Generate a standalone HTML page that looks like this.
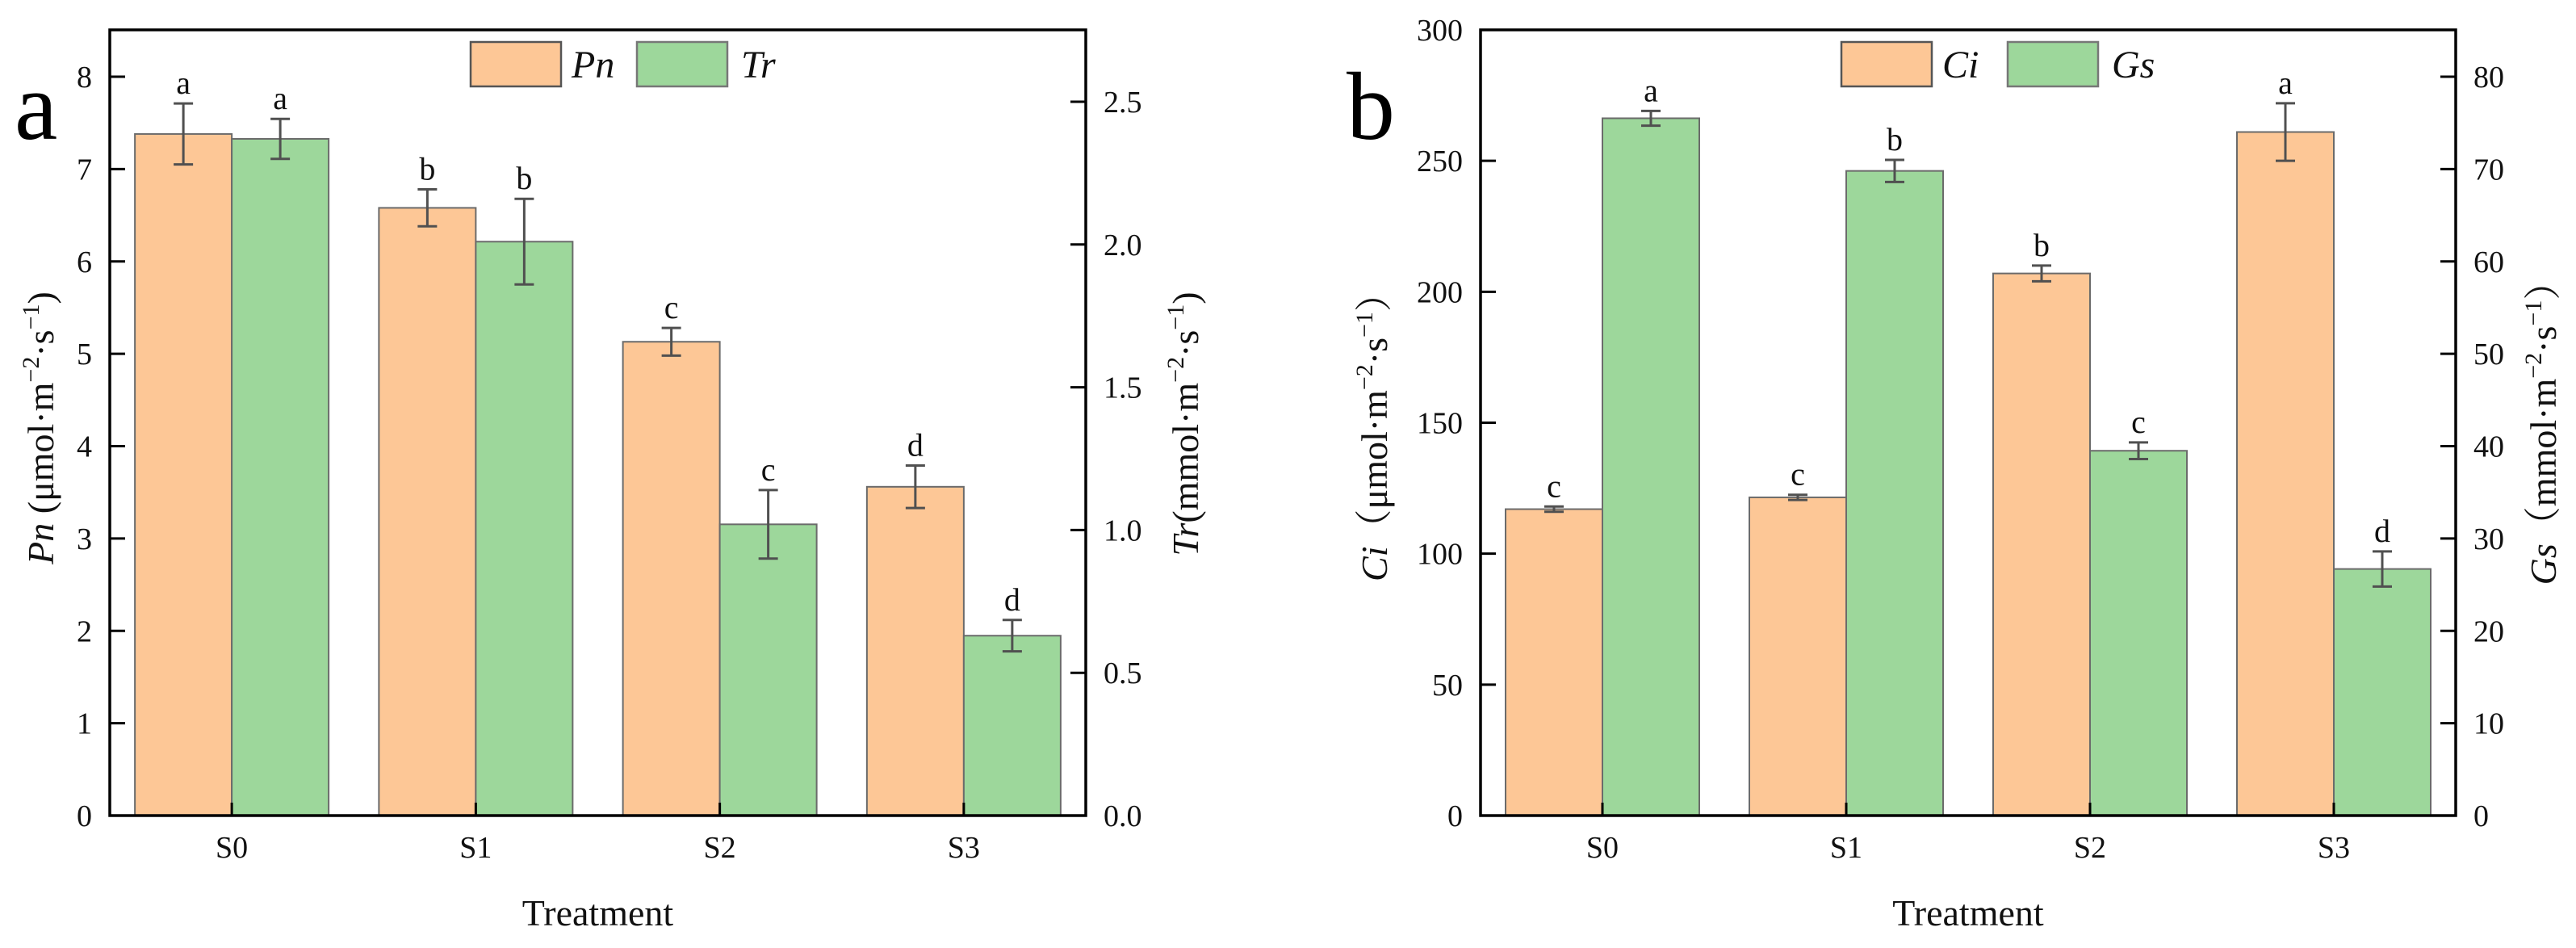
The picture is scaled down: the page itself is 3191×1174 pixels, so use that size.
<!DOCTYPE html>
<html><head><meta charset="utf-8">
<style>
html,body{margin:0;padding:0;background:#fff;}
svg{display:block;font-family:"Liberation Serif","Noto Serif CJK SC",serif;}
</style></head>
<body>
<svg id="fig" width="3191" height="1174" viewBox="0 0 3191 1174" xmlns="http://www.w3.org/2000/svg"></svg>
<script>
const categories = ["S0","S1","S2","S3"];
const pnValues = [7.38, 6.58, 5.13, 3.56];
const pnErrors = [0.33, 0.20, 0.15, 0.23];
const pnLetters = ["a","b","c","d"];
const trValues = [2.37, 2.01, 1.02, 0.63];
const trErrors = [0.07, 0.15, 0.12, 0.055];
const trLetters = ["a","b","c","d"];
const ciValues = [117, 121.5, 207, 261];
const ciErrors = [1, 1, 3, 11];
const ciLetters = ["c","c","b","a"];
const gsValues = [75.5, 69.8, 39.5, 26.7];
const gsErrors = [0.8, 1.2, 0.9, 1.9];
const gsLetters = ["a","b","c","d"];
const pnTicks = [0,1,2,3,4,5,6,7,8];
const trTicks = ["0.0","0.5","1.0","1.5","2.0","2.5"];
const ciTicks = [0,50,100,150,200,250,300];
const gsTicks = [0,10,20,30,40,50,60,70,80];

const NS = "http://www.w3.org/2000/svg";
const svg = document.getElementById("fig");
function mk(tag, attrs, parent, text){
  const e = document.createElementNS(NS, tag);
  for (const k in attrs) e.setAttribute(k, attrs[k]);
  if (text !== undefined) e.textContent = text;
  (parent || svg).appendChild(e);
  return e;
}
const Y0 = 1010, TOP = 37;
const ORANGE = "#FDC796", GREEN = "#9DD79B";

function panel(cfg){
  const g = mk("g", {});
  
  
  const L = cfg.left, R = cfg.right, step = (R - L) / categories.length;
  const xc = i => L + (i + 0.5) * step;
  const yl = v => Y0 - (v / cfg.lMax) * (Y0 - TOP);
  const yr = v => Y0 - (v / cfg.rMax) * (Y0 - TOP);
  const BW = 120;
  // bars
  const series = [
    {vals: cfg.lVals, errs: cfg.lErrs, lets: cfg.lLets, y: yl, color: ORANGE, off: -BW, key: cfg.lKey},
    {vals: cfg.rVals, errs: cfg.rErrs, lets: cfg.rLets, y: yr, color: GREEN, off: 0, key: cfg.rKey}
  ];
  series.forEach(s => {
    s.vals.forEach((v, i) => {
      const x = xc(i) + s.off, yt = s.y(v);
      const b = mk("rect", {x: x, y: yt, width: BW, height: Y0 - yt, fill: s.color, stroke: "#6b6b6b", "stroke-width": 2}, g);
      
      
      const cx = x + BW / 2, ya = s.y(v + s.errs[i]), yb = s.y(v - s.errs[i]);
      const eb = mk("path", {d: `M${cx},${ya}V${yb}M${cx-12},${ya}H${cx+12}M${cx-12},${yb}H${cx+12}`, stroke: "#505050", "stroke-width": 3, fill: "none"}, g);
      
      
      const t = mk("text", {x: cx, y: ya - 12, "font-size": 40, "text-anchor": "middle", fill: "#111"}, g, s.lets[i]);
      
      
    });
  });
  // frame
  const fr = mk("rect", {x: L, y: TOP, width: R - L, height: Y0 - TOP, fill: "none", stroke: "#000", "stroke-width": 3.5}, g);
  
  
  // left ticks
  cfg.lTicks.forEach(t => {
    const y = yl(+t);
    if (y > TOP + 3 && y < Y0 - 3) mk("line", {x1: L, x2: L + 19, y1: y, y2: y, stroke: "#000", "stroke-width": 3}, g);
    const tl = mk("text", {x: L - 22, y: y + 13, "font-size": 38, "text-anchor": "end", fill: "#111"}, g, t);
    
    
  });
  cfg.rTicks.forEach(t => {
    const y = yr(+t);
    if (y > TOP + 3 && y < Y0 - 3) mk("line", {x1: R, x2: R - 19, y1: y, y2: y, stroke: "#000", "stroke-width": 3}, g);
    const tl = mk("text", {x: R + 22, y: y + 13, "font-size": 38, "text-anchor": "start", fill: "#111"}, g, t);
    
    
  });
  categories.forEach((c, i) => {
    mk("line", {x1: xc(i), x2: xc(i), y1: Y0, y2: Y0 - 16, stroke: "#000", "stroke-width": 3}, g);
    const cl = mk("text", {x: xc(i), y: 1062, "font-size": 38, "text-anchor": "middle", fill: "#111"}, g, c);
    
    
  });
  const xt = mk("text", {x: (L + R) / 2, y: 1146, "font-size": 46, "text-anchor": "middle", fill: "#111"}, g, "Treatment");
  
  
  // legend
  const lx = L + 447;
  const s1 = mk("rect", {x: lx, y: 52, width: 112, height: 55, fill: ORANGE, stroke: "#555", "stroke-width": 2.5}, g);
  
  
  const t1 = mk("text", {x: lx + 125, y: 96, "font-size": 48, "font-style": "italic", fill: "#111"}, g, cfg.lLabel);
  
  
  const s2 = mk("rect", {x: lx + 206, y: 52, width: 112, height: 55, fill: GREEN, stroke: "#777", "stroke-width": 2.5}, g);
  
  
  const t2 = mk("text", {x: lx + 335, y: 96, "font-size": 48, "font-style": "italic", fill: "#111"}, g, cfg.rLabel);
  
  
  // axis titles
  function ytitle(x, y, italic, rest, name){
    const t = mk("text", {x: 0, y: 0, "font-size": 46, "text-anchor": "middle", fill: "#111", transform: `translate(${x},${y}) rotate(-90)`}, g);
    
    
    mk("tspan", {"font-style": "italic"}, t, italic);
    mk("tspan", {}, t, rest[0]);
    mk("tspan", {"font-size": 30, dy: -18}, t, "−2");
    mk("tspan", {dy: 18}, t, "·s");
    mk("tspan", {"font-size": 30, dy: -18}, t, "−1");
    mk("tspan", {dy: 18}, t, rest[1]);
  }
  ytitle(cfg.ltX, 530, cfg.lLabel, cfg.lUnit, 'left-y-axis-title');
  ytitle(cfg.rtX, 525, cfg.rLabel, cfg.rUnit, 'right-y-axis-title');
  const pl = mk("text", {x: cfg.letterX, y: 172, "font-size": 120, fill: "#000"}, g, cfg.letter);
  
  
}

panel({name: "panel-a", left: 136, right: 1345, lMax: 8.0 * (Y0 - TOP) / (Y0 - 95), rMax: 2.5 * (Y0 - TOP) / (Y0 - 126),
  lVals: pnValues, lErrs: pnErrors, lLets: pnLetters, rVals: trValues, rErrs: trErrors, rLets: trLetters,
  lTicks: pnTicks, rTicks: trTicks, lKey: "pn", rKey: "tr", lLabel: "Pn", rLabel: "Tr",
  lUnit: [" (μmol·m", ")"], rUnit: ["(mmol·m", ")"], ltX: 66, rtX: 1484, letter: "a", letterX: 18});
panel({name: "panel-b", left: 1834, right: 3042, lMax: 300, rMax: 80 * (Y0 - TOP) / (Y0 - 95),
  lVals: ciValues, lErrs: ciErrors, lLets: ciLetters, rVals: gsValues, rErrs: gsErrors, rLets: gsLetters,
  lTicks: ciTicks, rTicks: gsTicks, lKey: "ci", rKey: "gs", lLabel: "Ci", rLabel: "Gs",
  lUnit: ["（μmol·m", "）"], rUnit: ["（mmol·m", "）"], ltX: 1718, rtX: 3166, letter: "b", letterX: 1668});
</script>
</body></html>
